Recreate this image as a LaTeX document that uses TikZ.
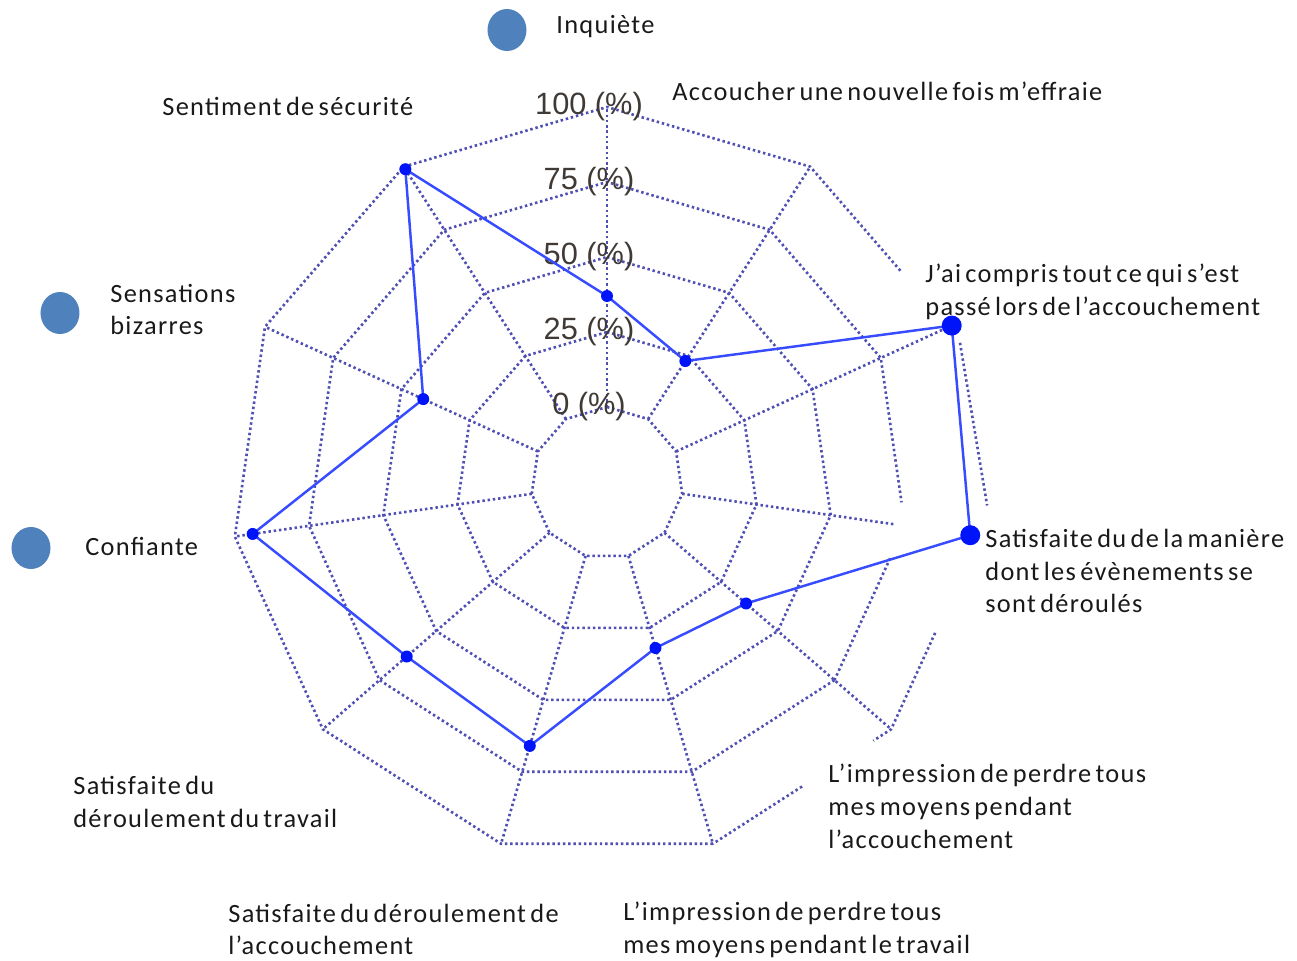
\documentclass[tikz,border=0pt]{standalone}
\usepackage{fontspec}
\setmainfont{Carlito}[LetterSpace=5.0,WordSpace=0.6]
\newfontfamily\valfont{Liberation Sans}
\usetikzlibrary{calc}

\definecolor{gridblue}{RGB}{80,80,180}
\definecolor{datablue}{RGB}{55,75,255}
\definecolor{markblue}{RGB}{0,20,250}
\definecolor{legendblue}{RGB}{79,129,189}
\definecolor{valgray}{RGB}{64,58,54}

\tikzset{
  webline/.style={gridblue, line width=1.5pt, dash pattern=on 1.4pt off 1.6pt},
  dataline/.style={datablue, line width=1.4pt},
  lbl/.style={anchor=west, inner sep=0pt, align=left, text=black!90,
    font=\fontsize{15}{18.7}\selectfont},
  vlbl/.style={inner sep=0pt, text=valgray, font=\valfont\fontsize{17.5}{18}\selectfont},
}

\begin{document}
\begin{tikzpicture}[x=0.02cm,y=0.02cm]
  \useasboundingbox (-607,-477) rectangle (690,483);

  % web: rings at 0, 25, 50, 75, 100 %
  \foreach \j in {0,...,4}
    \foreach \k in {0,...,10}
      \coordinate (r\j-\k) at ({90-\k*360/11}:{76+75*\j});

  \foreach \j in {0,1,2}
    \draw[webline] (r\j-0) \foreach \k in {1,...,10}{-- (r\j-\k)} -- cycle;

  % 75 ring, broken on the right
  \draw[webline] (r3-4) -- (r3-5) -- (r3-6) -- (r3-7) -- (r3-8) -- (r3-9)
    -- (r3-10) -- (r3-0) -- (r3-1) -- (r3-2) -- ($(r3-2)!0.86!(r3-3)$);
  \draw[webline] ($(r3-3)!0.21!(r3-4)$) -- (r3-4);

  % outer ring
  \draw[webline] (r4-5) -- (r4-6) -- (r4-7) -- (r4-8) -- (r4-9) -- (r4-10)
    -- (r4-0) -- (r4-1) -- ($(r4-1)!0.65!(r4-2)$);
  \draw[webline] ($(r4-2)+(11,-16)$) -- ($(r4-3)+(8,31)$);
  \draw[webline] ($(r4-3)!0.5!(r4-4)$) -- (r4-4) -- ($(r4-4)!0.1!(r4-5)$);
  \draw[webline] ($(r4-4)!0.5!(r4-5)$) -- (r4-5);

  % spokes
  \foreach \k in {0,1,2,4,5,6,7,8,9,10}
    \draw[webline] (r0-\k) -- (r4-\k);
  \draw[webline] (r0-3) -- ($(r0-3)!0.96!(r3-3)$);

  % scale
  \foreach \j/\pc in {0/0,1/25,2/50,3/75,4/100}
    \node[vlbl] (v\pc) at (-18,{76+75*\j}) {\pc{} (\%)};

  % data
  \foreach \v [count=\k from 0] in {37,23,101,97,36,32,66,63,94,42,99}
    \coordinate (p\k) at ({90-\k*360/11}:{76+3*\v});
  \draw[dataline] (p0) \foreach \k in {1,...,10}{-- (p\k)} -- cycle;
  \foreach \k in {0,1,4,5,6,7,8,9,10}
    \fill[markblue] (p\k) circle (6);
  \fill[markblue] (p2) circle (10) (p3) circle (10);

  % legend dots
  \fill[legendblue] (-100,453) ellipse (19.5 and 21);
  \fill[legendblue] (-547,170) ellipse (19.5 and 21);
  \fill[legendblue] (-576,-65) ellipse (19.5 and 21);

  % labels
  \node[lbl] (inq) at (-51,456) {Inquiète};
  \node[lbl] (acc) at (65,392) {Accoucher une nouvelle fois m’effraie};
  \node[lbl] (sec) at (-445,377) {Sentiment de sécurité};
  \node[lbl] (comp) at (318,191.5) {J’ai compris tout ce qui s’est\\passé lors de l’accouchement};
  \node[lbl] (sens) at (-497,173.5) {Sensations\\bizarres};
  \node[lbl] (conf) at (-522,-63) {Confiante};
  \node[lbl] (man) at (378,-88) {Satisfaite du de la manière\\dont les évènements se\\sont déroulés};
  \node[lbl] (perdacc) at (221,-323) {L’impression de perdre tous\\mes moyens pendant\\l’accouchement};
  \node[lbl] (dertrav) at (-534,-319) {Satisfaite du\\déroulement du travail};
  \node[lbl] (deracc) at (-379,-446.5) {Satisfaite du déroulement de\\l’accouchement};
  \node[lbl] (perdtrav) at (16,-446.5) {L’impression de perdre tous\\mes moyens pendant le travail};
\end{tikzpicture}
\end{document}
